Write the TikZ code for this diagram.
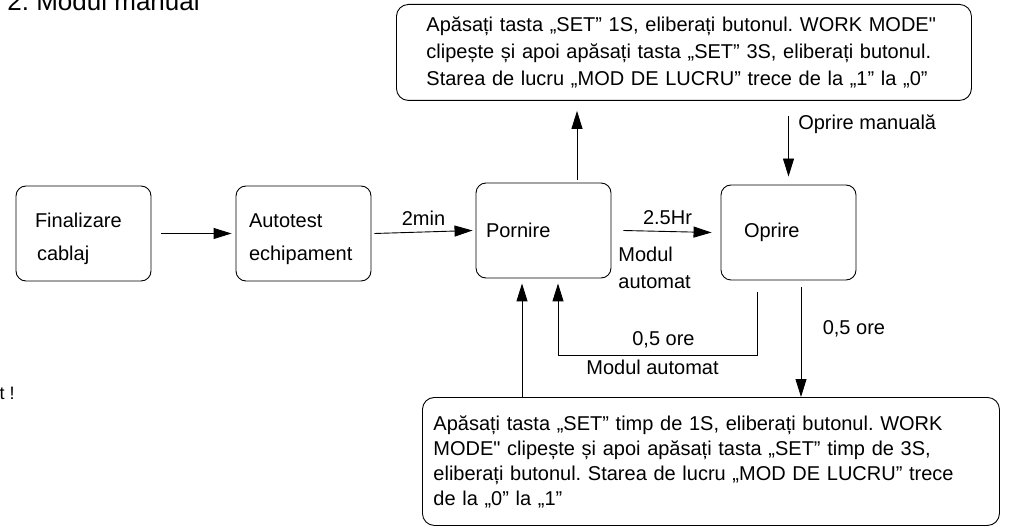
\documentclass[tikz,border=0pt]{standalone}
\usepackage{fontspec}
\setmainfont{Liberation Sans}
\usetikzlibrary{arrows.meta}
\frenchspacing

\tikzset{
  stage/.style={draw, rounded corners=10pt, minimum width=135pt, minimum height=95pt, align=left},
  note/.style={draw, rounded corners=12pt, align=left, anchor=north west},
  arr/.style={-{Triangle[length=18pt,width=11pt]}},
}

\begin{document}
\begin{tikzpicture}[x=1pt, y=-1pt, line width=0.9pt, font=\fontsize{20}{27}\selectfont]
			\useasboundingbox (0,0) rectangle (1011,526);

			\node[anchor=base west, inner sep=0pt, font=\fontsize{26}{30}\selectfont] (title) at (7,11) {2. Modul manual};
			\node[anchor=base east, inner sep=0pt, font=\fontsize{18}{20}\selectfont] (warn) at (15,399) {t !};

			\node[stage, text width=97pt, inner xsep=19pt] (fin) at (83.5,233.5) {\rule{0pt}{25pt}Finalizare\\[6pt]\hspace*{2pt}cablaj};
			\node[stage, text width=109pt, inner xsep=13pt] (auto) at (303.5,233.5) {\rule{0pt}{25pt}Autotest\\[6pt]echipament};
			\node[stage, text width=115pt, inner xsep=10pt] (porn) at (543.5,230.5) {Pornire};
			\node[stage, text width=89pt, inner xsep=23pt] (opr) at (788.5,232.5) {Oprire};

			\node[note, text width=515pt, inner xsep=30pt, minimum height=96pt] (top) at (396,4)
			{
				Apăsați tasta „SET” 1S, eliberați butonul. WORK MODE\textquotedbl\\
				clipește și apoi apăsați tasta „SET” 3S, eliberați butonul.\\
				Starea de lucru „MOD DE LUCRU” trece de la „1” la „0”
			};
			\node[note, text width=555pt, inner xsep=11pt, minimum height=128pt, font=\fontsize{20}{25}\selectfont] (bot) at (422,397)
			{
				Apăsați tasta „SET” timp de 1S, eliberați butonul. WORK\\
				MODE\textquotedbl{} clipește și apoi apăsați tasta „SET” timp de 3S,\\
				eliberați butonul. Starea de lucru „MOD DE LUCRU” trece\\
				de la „0” la „1”
			};

			% main line
			\draw[arr] ([xshift=10pt]fin.east) -- ([xshift=-4pt]auto.west);
			\draw[arr] ([xshift=3pt]auto.east) -- node[above=3pt] (lbmin) {2min} ([xshift=-3pt]porn.west);
			\draw[arr] ([xshift=12pt]porn.east) -- node[above=3pt] (lbhr) {2.5Hr} ([xshift=-9pt]opr.west);
			\node[anchor=north west, align=left, inner sep=0pt] (lbauto) at (618,247) {Modul\\automat};

			% manual mode
			\draw[arr] ([xshift=33.5pt,yshift=3pt]porn.north) -- ([xshift=33.5pt,yshift=-10pt]top.south -| porn.north);
			\draw[arr] ([yshift=-15pt]top.south -| opr.north) -- node[pos=0.13, anchor=west, xshift=6pt] (lbman) {Oprire manuală} ([yshift=8pt]opr.north);
			\draw[arr] ([xshift=12.5pt,yshift=-7pt]opr.south) -- node[pos=0.38, anchor=west, xshift=18pt] (lbore) {0,5 ore} ([xshift=12.5pt]bot.north -| opr.south);
			\draw[arr] ([xshift=-21.5pt]bot.north -| porn.south) -- ([xshift=-21.5pt,yshift=-5pt]porn.south);

			% back to start
			\coordinate (ret) at ([xshift=14.5pt,yshift=-5pt]porn.south);
			\draw[arr] ([xshift=-31.5pt,yshift=-12pt]opr.south) -- ++(0,63) coordinate (turn)
				-- node[above=4pt, xshift=6pt] (lbhalf) {0,5 ore} node[below=1pt, xshift=-5pt] (lbloop) {Modul automat} (turn -| ret) -- (ret);
		\end{tikzpicture}
\end{document}
